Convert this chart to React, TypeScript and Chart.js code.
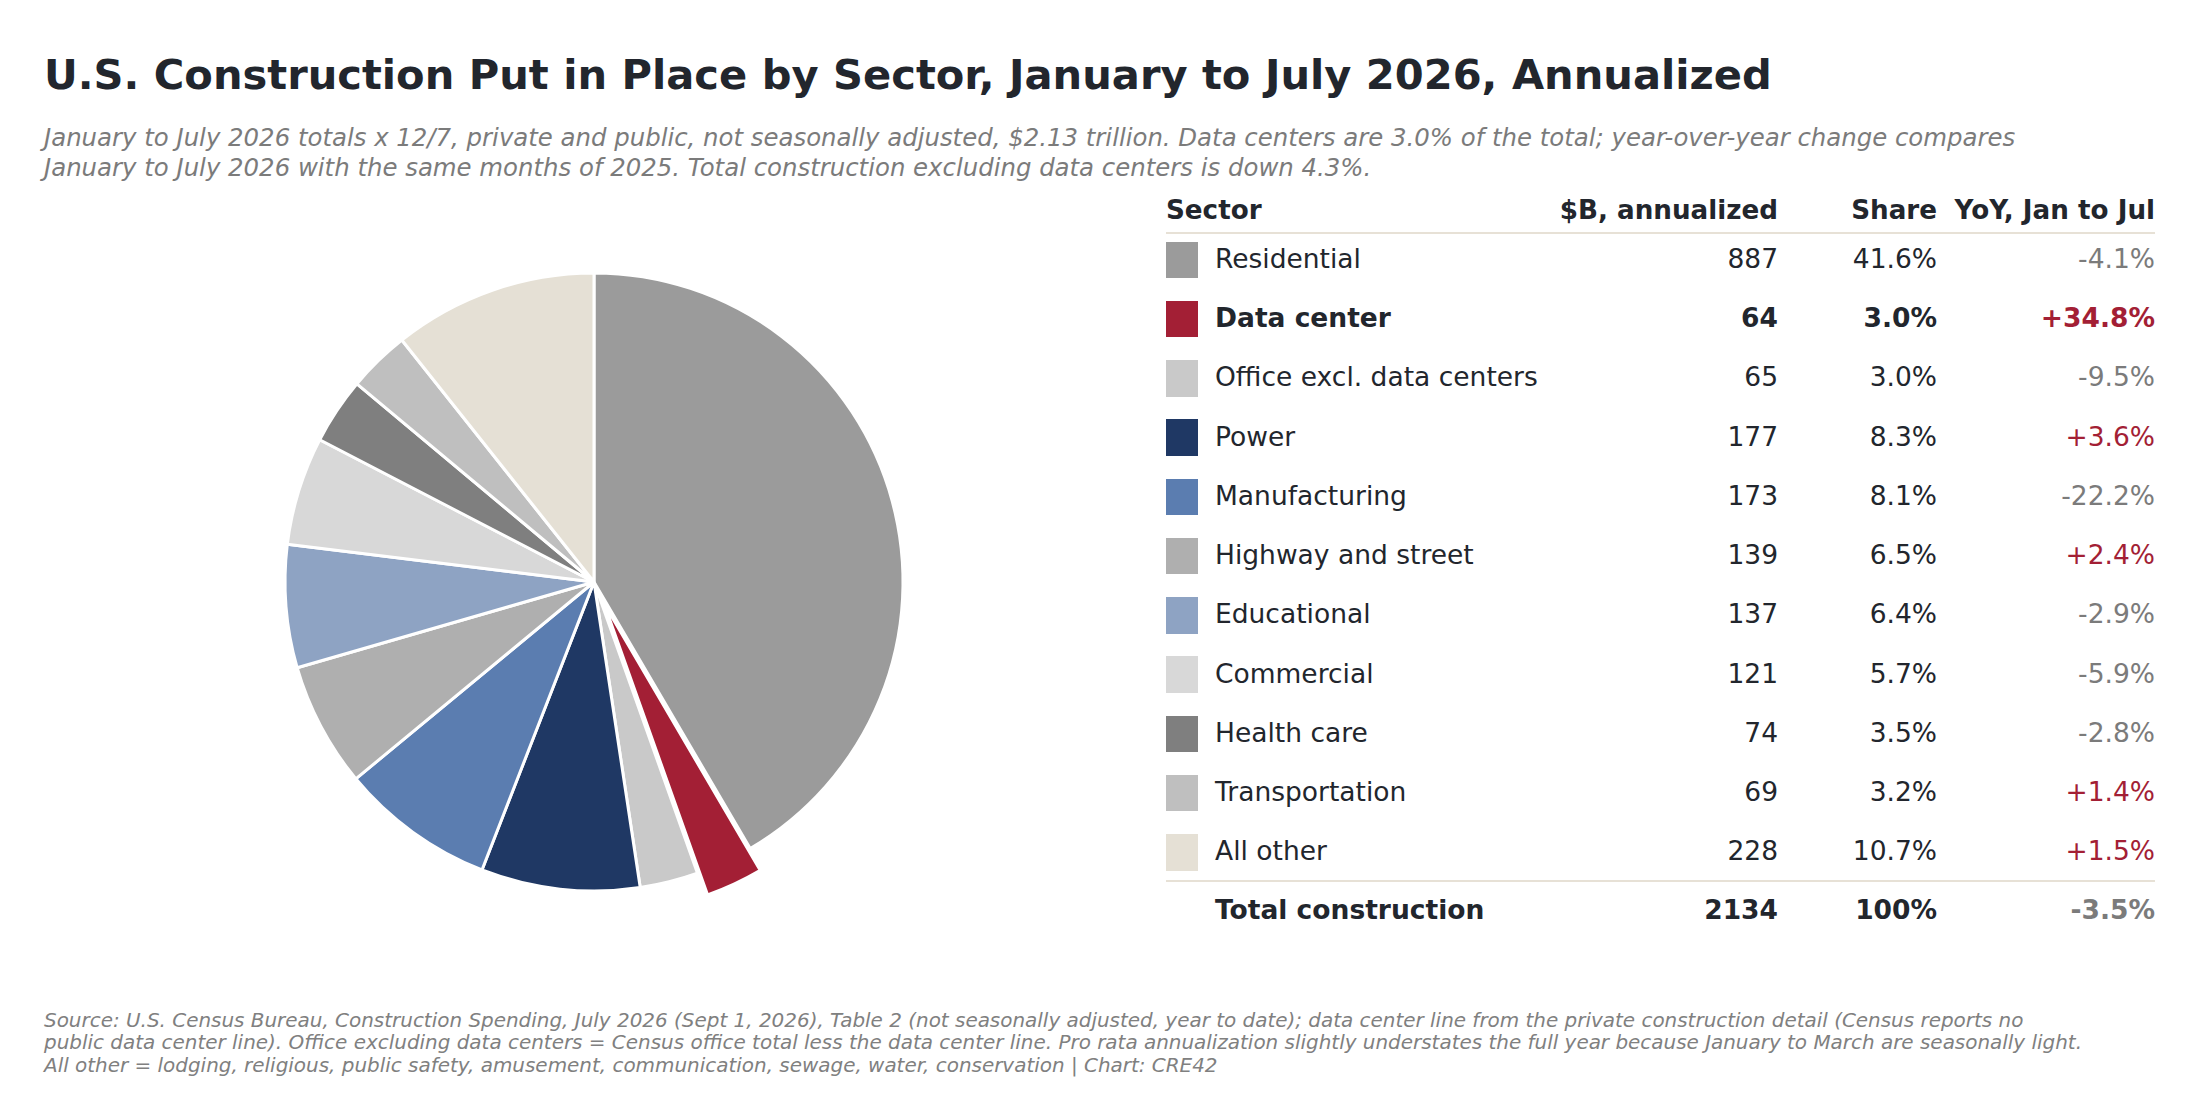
import React, { useEffect, useRef } from "react";
import { Chart, registerables } from "chart.js";

Chart.register(...registerables);

// ---------- data ----------
const sectors = [
  "Residential",
  "Data center",
  "Office excl. data centers",
  "Power",
  "Manufacturing",
  "Highway and street",
  "Educational",
  "Commercial",
  "Health care",
  "Transportation",
  "All other",
];
const annualizedB = [887, 64, 65, 177, 173, 139, 137, 121, 74, 69, 228];
const sharePct = [41.6, 3.0, 3.0, 8.3, 8.1, 6.5, 6.4, 5.7, 3.5, 3.2, 10.7];
const yoyPct = [-4.1, 34.8, -9.5, 3.6, -22.2, 2.4, -2.9, -5.9, -2.8, 1.4, 1.5];
const totalLabel = "Total construction";
const totalB = 2134;
const totalSharePct = 100;
const totalYoyPct = -3.5;

const headers = ["Sector", "$B, annualized", "Share", "YoY, Jan to Jul"];

const titleText =
  "U.S. Construction Put in Place by Sector, January to July 2026, Annualized";
const subtitleLines = [
  "January to July 2026 totals x 12/7, private and public, not seasonally adjusted, $2.13 trillion. Data centers are 3.0% of the total; year-over-year change compares",
  "January to July 2026 with the same months of 2025. Total construction excluding data centers is down 4.3%.",
];
const footerLines = [
  "Source: U.S. Census Bureau, Construction Spending, July 2026 (Sept 1, 2026), Table 2 (not seasonally adjusted, year to date); data center line from the private construction detail (Census reports no",
  "public data center line). Office excluding data centers = Census office total less the data center line. Pro rata annualization slightly understates the full year because January to March are seasonally light.",
  "All other = lodging, religious, public safety, amusement, communication, sewage, water, conservation | Chart: CRE42",
];

// ---------- styles ----------
const sliceColors = [
  "#9b9b9b",
  "#a31f35",
  "#c9c9c9",
  "#1f3864",
  "#5b7db0",
  "#afafaf",
  "#8ea3c3",
  "#d8d8d8",
  "#7f7f7f",
  "#bfbfbf",
  "#e5e0d5",
];
const HIGHLIGHT = 1;
const EXPLODE_PX = 24;
const FONT = '"DejaVu Sans", "Noto Sans", sans-serif';
const DARK = "#22262d";
const GREY = "#7b7b7b";
const RED = "#a31f35";
const RULE = "#e7e1d6";

// top for an absolutely positioned line so its baseline lands at `baseline`
function topFor(baseline: number, fs: number, lh: number) {
  return baseline - ((lh - 1.164 * fs) / 2 + 0.928 * fs);
}

const explodePlugin = {
  id: "explodeSlice",
  afterDatasetsUpdate(chart: any) {
    const meta = chart.getDatasetMeta(0);
    const arc: any = meta.data[HIGHLIGHT];
    if (!arc) return;
    const mid = (arc.startAngle + arc.endAngle) / 2;
    arc.x += Math.cos(mid) * EXPLODE_PX;
    arc.y += Math.sin(mid) * EXPLODE_PX;
  },
};

const fmtPct = (v: number) => v.toFixed(1) + "%";
const fmtYoy = (v: number) => (v > 0 ? "+" : "") + v.toFixed(1) + "%";

function PieChart() {
  const ref = useRef<HTMLCanvasElement | null>(null);
  useEffect(() => {
    if (!ref.current) return;
    const chart = new Chart(ref.current, {
      type: "pie",
      data: {
        labels: sectors,
        datasets: [
          {
            data: annualizedB,
            backgroundColor: sliceColors,
            borderColor: "#ffffff",
            borderWidth: 3,
            radius: 309,
          } as any,
        ],
      },
      options: {
        responsive: false,
        animation: false,
        events: [],
        layout: { padding: 0 },
        plugins: {
          legend: { display: false },
          tooltip: { enabled: false },
          title: { display: false },
        },
      },
      plugins: [explodePlugin],
    });
    return () => chart.destroy();
  }, []);
  return (
    <canvas
      ref={ref}
      width={720}
      height={720}
      style={{ position: "absolute", left: 594 - 360, top: 582 - 360, width: 720, height: 720 }}
    />
  );
}

export default function App() {
  const ROW_FS = 26.5;
  const HEAD_FS = 26.2;
  const ROW_LH = 32;
  const row0 = 268;
  const rowStep = 59.25;
  const xLabel = 1215;
  const xSwatch = 1166;
  const rVal = 1778;
  const rShare = 1937;
  const rYoy = 2155;

  const rightCell = (text: string, right: number, baseline: number, bold: boolean, color: string, key: string, fs: number = ROW_FS) => (
    <div
      key={key}
      style={{
        position: "absolute",
        left: right - 400,
        width: 400,
        top: topFor(baseline, fs, ROW_LH),
        height: ROW_LH,
        lineHeight: ROW_LH + "px",
        fontSize: fs,
        fontWeight: bold ? "bold" : "normal",
        color,
        textAlign: "right",
        whiteSpace: "nowrap",
      }}
    >
      {text}
    </div>
  );
  const leftCell = (text: string, left: number, baseline: number, bold: boolean, color: string, key: string, fs: number = ROW_FS) => (
    <div
      key={key}
      style={{
        position: "absolute",
        left,
        top: topFor(baseline, fs, ROW_LH),
        height: ROW_LH,
        lineHeight: ROW_LH + "px",
        fontSize: fs,
        fontWeight: bold ? "bold" : "normal",
        color,
        whiteSpace: "nowrap",
      }}
    >
      {text}
    </div>
  );

  const headerBase = 219;
  const cells: React.ReactNode[] = [];
  cells.push(leftCell(headers[0], 1166, headerBase, true, DARK, "h0", HEAD_FS));
  cells.push(rightCell(headers[1], rVal, headerBase, true, DARK, "h1", HEAD_FS));
  cells.push(rightCell(headers[2], rShare, headerBase, true, DARK, "h2", HEAD_FS));
  cells.push(rightCell(headers[3], rYoy, headerBase, true, DARK, "h3", HEAD_FS));

  sectors.forEach((s, i) => {
    const b = row0 + rowStep * i;
    const bold = i === HIGHLIGHT;
    cells.push(
      <div
        key={"sw" + i}
        style={{
          position: "absolute",
          left: xSwatch,
          top: b - 26.5,
          width: 32,
          height: 36.5,
          background: sliceColors[i],
        }}
      />
    );
    cells.push(leftCell(s, xLabel, b, bold, DARK, "l" + i));
    cells.push(rightCell(String(annualizedB[i]), rVal, b, bold, DARK, "v" + i));
    cells.push(rightCell(fmtPct(sharePct[i]), rShare, b, bold, DARK, "s" + i));
    cells.push(rightCell(fmtYoy(yoyPct[i]), rYoy, b, bold, yoyPct[i] > 0 ? RED : GREY, "y" + i));
  });

  const totalBase = 919.5;
  cells.push(leftCell(totalLabel, xLabel, totalBase, true, DARK, "tl"));
  cells.push(rightCell(String(totalB), rVal, totalBase, true, DARK, "tv"));
  cells.push(rightCell(totalSharePct + "%", rShare, totalBase, true, DARK, "ts"));
  cells.push(rightCell(fmtYoy(totalYoyPct), rYoy, totalBase, true, totalYoyPct > 0 ? RED : GREY, "ty"));

  return (
    <div
      style={{
        position: "fixed",
        left: 0,
        top: 0,
        width: 2200,
        height: 1100,
        background: "#ffffff",
        fontFamily: FONT,
        overflow: "hidden",
      }}
    >
      <div
        style={{
          position: "absolute",
          left: 44,
          top: topFor(89.8, 41.6, 50),
          fontSize: 41.6,
          lineHeight: "50px",
          fontWeight: "bold",
          color: DARK,
          whiteSpace: "nowrap",
        }}
      >
        {titleText}
      </div>
      {subtitleLines.map((t, i) => (
        <div
          key={"sub" + i}
          style={{
            position: "absolute",
            left: 44,
            top: topFor(146 + 30.7 * i, 24.4, 30),
            fontSize: 24.4,
            lineHeight: "30px",
            fontStyle: "italic",
            color: GREY,
            whiteSpace: "nowrap",
          }}
        >
          {t}
        </div>
      ))}

      <PieChart />

      <div style={{ position: "absolute", left: 1166, top: 231.7, width: 2155 - 1166, height: 2, background: RULE }} />
      <div style={{ position: "absolute", left: 1166, top: 879.7, width: 2155 - 1166, height: 2, background: RULE }} />
      {cells}

      {footerLines.map((t, i) => (
        <div
          key={"f" + i}
          style={{
            position: "absolute",
            left: 44,
            top: topFor(1027 + 22.4 * i, 19.95, 22),
            fontSize: 19.95,
            lineHeight: "22px",
            fontStyle: "italic",
            color: "#808080",
            whiteSpace: "nowrap",
          }}
        >
          {t}
        </div>
      ))}
    </div>
  );
}
